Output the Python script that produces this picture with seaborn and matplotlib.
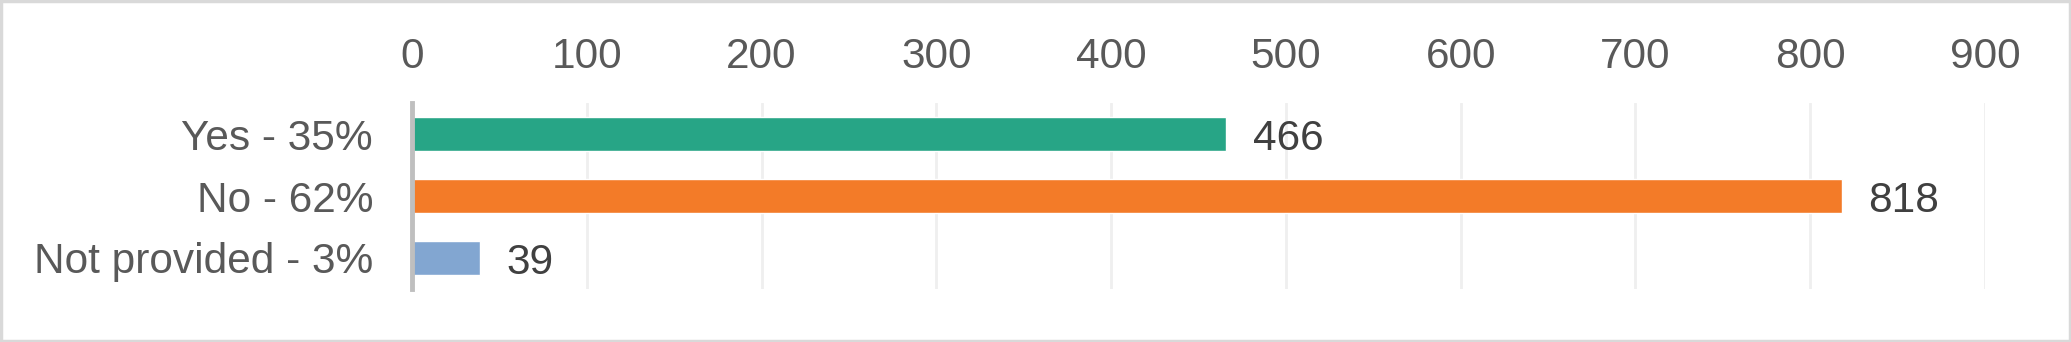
import matplotlib
matplotlib.use("Agg")
import matplotlib.pyplot as plt
import seaborn as sns
import pandas as pd
from matplotlib.patches import Rectangle

categories = ["Yes - 35%", "No - 62%", "Not provided - 3%"]
values = [466, 818, 39]
colors = ["#27A586", "#F37B28", "#82A6D1"]
xticks = [0, 100, 200, 300, 400, 500, 600, 700, 800, 900]

sns.set_theme(style="white")
plt.rcParams["font.family"] = ["Liberation Sans", "DejaVu Sans"]

df = pd.DataFrame({"category": categories, "value": values})

fig = plt.figure(figsize=(20.71, 3.42), dpi=100)
ax = fig.add_axes([412 / 2071, 1 - 289 / 342, (1985 - 412) / 2071, (289 - 103) / 342])

sns.barplot(data=df, y="category", x="value", hue="category", palette=colors,
            order=categories, hue_order=categories, width=0.556, legend=False,
            saturation=1, ax=ax, orient="h")

ax.set_xlim(0, 900)
ax.set_ylim(2.5, -0.5)
ax.set_xticks(xticks)
ax.set_xticklabels([str(t) for t in xticks])
ax.xaxis.tick_top()
ax.tick_params(axis="x", length=0, pad=19, labelsize=30.5, colors="#595959")
ax.tick_params(axis="y", length=0, pad=28, labelsize=30.5, colors="#595959")
ax.set_xlabel("")
ax.set_ylabel("")
ax.grid(axis="x", color="#EFEFEF", linewidth=2)
ax.set_axisbelow(True)
for s in ["top", "right", "bottom"]:
    ax.spines[s].set_visible(False)
ax.spines["left"].set_color("#BFBFBF")
ax.spines["left"].set_linewidth(3.5)
ax.spines["left"].set_zorder(5)

for i, v in enumerate(values):
    ax.annotate(str(v), xy=(v, i), xytext=(19, 0), textcoords="offset points",
                va="center_baseline", ha="left", fontsize=30.5, color="#404040")

fig.patches.append(Rectangle((0.0007, 0.004), 0.9986, 0.992, transform=fig.transFigure,
                             fill=False, edgecolor="#D9D9D9", linewidth=2.5))

fig.savefig("out.png", dpi=100, facecolor="white")
